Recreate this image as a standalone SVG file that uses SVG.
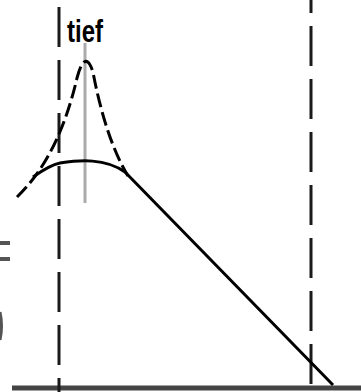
<svg xmlns="http://www.w3.org/2000/svg" width="361" height="392" viewBox="0 0 361 392">
<style>
.guide{stroke:#1a1a1a;stroke-width:3;fill:none;stroke-dasharray:40 13}
.curve{stroke:#000;stroke-width:3;fill:none;stroke-linejoin:round}
.dcurve{stroke:#000;stroke-width:3;fill:none;stroke-dasharray:14 5}
.lbl{font-family:"Liberation Sans",Arial,sans-serif;fill:#000}
.mark{stroke:#555;fill:none}
</style>
<rect width="361" height="392" fill="#fff"/>
<g id="axis">
<line x1="12" y1="388" x2="361" y2="388" stroke="#444" stroke-width="5"/>
</g>
<g id="guides">
<line class="guide" x1="59" y1="7" x2="59" y2="392"/>
<line class="guide" x1="311" y1="0" x2="311" y2="392" stroke-dashoffset="27"/>
</g>
<g id="peak-marker">
<line x1="85" y1="43" x2="85" y2="203" stroke="#aaa" stroke-width="3"/>
</g>
<g id="connectors">
<path class="dcurve" d="M17,197 C45,170 65,130 77,78 Q85,48 93,72 C100,110 112,150 128,176"/>
<path class="curve" d="M33,177 Q50,165 60,163 C80,160 105,158 125,172 L333,385"/>
</g>
<g id="labels">
<text class="lbl" x="67" y="42" font-size="31" font-weight="bold" textLength="36" lengthAdjust="spacingAndGlyphs">tief</text>
</g>
<g id="edge-marks">
<line class="mark" x1="0" y1="243" x2="10" y2="243" stroke-width="4"/>
<line class="mark" x1="0" y1="259" x2="10" y2="259" stroke-width="4"/>
<path class="mark" d="M0,312 Q3,326 0,340" stroke-width="3"/>
</g>
</svg>
